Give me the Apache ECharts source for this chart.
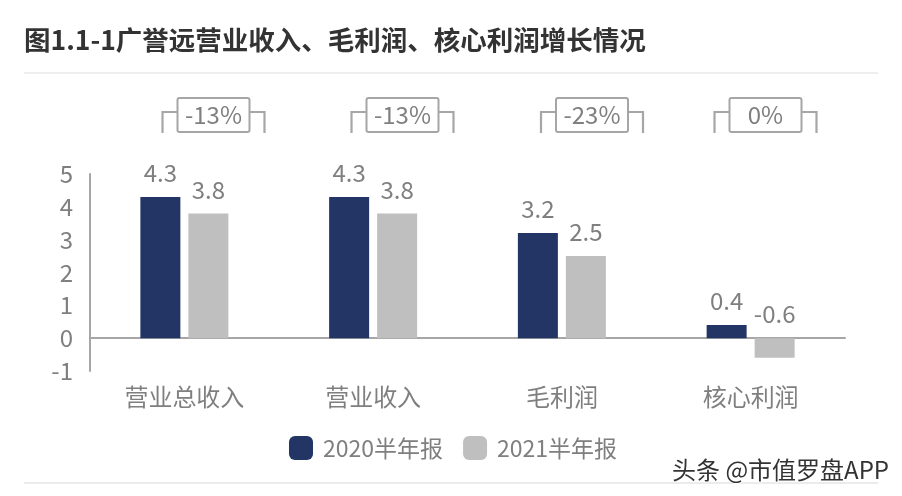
<!DOCTYPE html>
<html><head><meta charset="utf-8">
<style>html,body{margin:0;padding:0;background:#fff}#c{width:902px;height:496px}</style>
<script src="https://cdn.jsdelivr.net/npm/echarts@6/dist/echarts.min.js"></script>
</head><body><div id="c"></div>
<script>
const categories = ['营业总收入', '营业收入', '毛利润', '核心利润'];
const values2020 = [4.3, 4.3, 3.2, 0.4];
const values2021 = [3.8, 3.8, 2.5, -0.6];
const changeLabels = ['-13%', '-13%', '-23%', '0%'];
const titleText = '图1.1-1广誉远营业收入、毛利润、核心利润增长情况';
const watermark = '头条 @市值罗盘APP';
const bracketCentres = [213.5, 402.5, 592, 765.5];

const FONT = '"Noto Sans CJK SC","Noto Sans",sans-serif';
const GREY = '#7f7f7f';
const chart = echarts.init(document.getElementById('c'), null, {renderer: 'canvas'});

function bracket(cx, label) {
  const lineStyle = {stroke: '#a6a6a6', lineWidth: 2.2, fill: null};
  return {
    type: 'group', x: cx, y: 115,
    children: [
      {type: 'polyline', shape: {points: [[-51, 18], [-51, -3], [-36, -3]]}, style: lineStyle},
      {type: 'polyline', shape: {points: [[36, -3], [51, -3], [51, 18]]}, style: lineStyle},
      {type: 'rect', shape: {x: -36, y: -17, width: 72, height: 34, r: 2},
       style: {stroke: '#a6a6a6', lineWidth: 2, fill: '#fff'}},
      {type: 'text', style: {x: 0, y: 0, text: label, align: 'center', verticalAlign: 'middle',
        font: '24px ' + FONT, fill: GREY}}
    ]
  };
}

chart.setOption({
  animation: false,
  backgroundColor: '#fff',
  textStyle: {fontFamily: FONT},
  grid: {left: 90, right: 57, top: 174, bottom: 125, containLabel: false},
  legend: {
    left: 284, top: 431, itemWidth: 24, itemHeight: 24, itemGap: 20,
    icon: 'roundRect',
    textStyle: {fontSize: 23, color: GREY, fontFamily: FONT, padding: [0, 0, 0, 5]},
    data: ['2020半年报', '2021半年报']
  },
  xAxis: {
    type: 'category', data: categories,
    axisTick: {show: false},
    axisLine: {onZero: true, lineStyle: {color: '#a6a6a6', width: 2}},
    axisLabel: {margin: 14, fontSize: 24, color: GREY, fontFamily: FONT, interval: 0}
  },
  yAxis: {
    type: 'value', min: -1, max: 5, interval: 1,
    splitLine: {show: false},
    axisTick: {show: false},
    axisLine: {show: true, onZero: false, lineStyle: {color: '#a6a6a6', width: 2}},
    axisLabel: {margin: 17, fontSize: 24, color: GREY, fontFamily: FONT, padding: [0, 0, 4, 0]}
  },
  series: [
    {name: '2020半年报', type: 'bar', data: values2020, barWidth: 40, barGap: '20%',
     itemStyle: {color: '#223564'},
     label: {show: true, position: 'top', distance: 12, fontSize: 24, color: GREY, fontFamily: FONT}},
    {name: '2021半年报', type: 'bar', data: values2021, barWidth: 40,
     itemStyle: {color: '#bfbfbf'},
     label: {show: true, position: 'top', distance: 12, fontSize: 24, color: GREY, fontFamily: FONT}}
  ],
  graphic: [
    {type: 'text', left: 24, top: 27, style: {text: titleText, font: 'bold 26.5px ' + FONT, fill: '#333333'}},
    {type: 'line', shape: {x1: 24, y1: 73, x2: 878, y2: 73}, style: {stroke: '#e8e8e8', lineWidth: 1.5}},
    {type: 'line', shape: {x1: 24, y1: 483, x2: 878, y2: 483}, style: {stroke: '#e4e4e4', lineWidth: 1.5}},
    ...changeLabels.map((t, i) => bracket(bracketCentres[i], t)),
    {type: 'text', left: 671, top: 457, z: 10, style: {text: watermark, font: '24px ' + FONT, fill: '#333333',
      stroke: '#fff', lineWidth: 2}}
  ]
});
</script></body></html>
